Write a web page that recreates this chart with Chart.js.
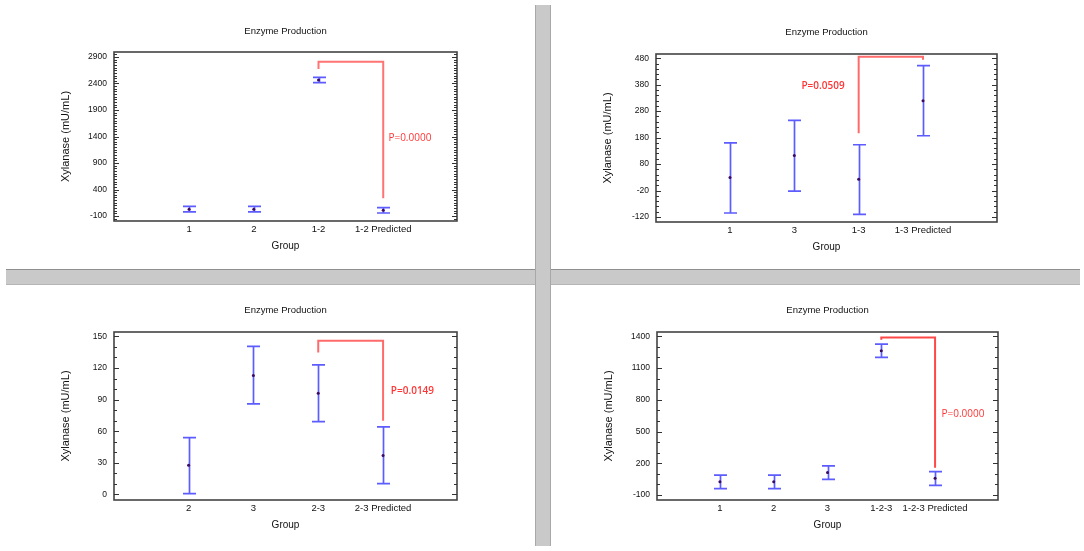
<!DOCTYPE html>
<html>
<head>
<meta charset="utf-8">
<script src="https://cdn.jsdelivr.net/npm/chart.js@4.4.0/dist/chart.umd.min.js"></script>
<style>
  body { margin: 0; width: 1084px; height: 551px; background: #fff; position: relative; overflow: hidden; }
  .hbar { position: absolute; left: 6px; top: 269px; width: 1074px; height: 14px; background: #c9c9c9;
          border-top: 1px solid #8f8f8f; border-bottom: 1px solid #b5b5b5; }
  .vbar { position: absolute; left: 535px; top: 5px; width: 14px; height: 541px; background: #c9c9c9;
          border-left: 1px solid #a8a8a8; border-right: 1px solid #a8a8a8; }
  canvas { position: absolute; }
</style>
</head>
<body>
<div class="hbar"></div>
<div class="vbar"></div>
<canvas id="c0" width="535" height="269" style="left:0;top:0"></canvas>
<canvas id="c1" width="533" height="269" style="left:551px;top:0"></canvas>
<canvas id="c2" width="535" height="266" style="left:0;top:285px"></canvas>
<canvas id="c3" width="533" height="266" style="left:551px;top:285px"></canvas>
<script>
// top-left: 1 + 2
const groupsA = ['1', '2', '1-2', '1-2 Predicted'];
const meanA = [30, 30, 2466, 7];
const lowA = [-20, -20, 2418, -43];
const highA = [80, 80, 2514, 57];
const ticksA = [-100, 400, 900, 1400, 1900, 2400, 2900];
const bracketA = [2674, 2812, 234];   // left foot, top, right foot

// top-right: 1 + 3
const groupsB = ['1', '3', '1-3', '1-3 Predicted'];
const meanB = [29, 112, 23, 319];
const lowB = [-105, -22, -110, 187];
const highB = [160, 245, 153, 452];
const ticksB = [-120, -20, 80, 180, 280, 380, 480];
const bracketB = [196, 486, 474];

// bottom-left: 2 + 3
const groupsC = ['2', '3', '2-3', '2-3 Predicted'];
const meanC = [27.6, 112.9, 96.1, 36.8];
const lowC = [0.6, 85.9, 69.1, 10.1];
const highC = [53.9, 140.5, 123, 64];
const ticksC = [0, 30, 60, 90, 120, 150];
const bracketC = [134.8, 145.9, 70];

// bottom-right: 1 + 2 + 3
const groupsD = ['1', '2', '3', '1-2-3', '1-2-3 Predicted'];
const meanD = [26, 26, 112, 1264, 58];
const lowD = [-40, -40, 48, 1201, -8];
const highD = [89, 89, 175, 1327, 121];
const ticksD = [-100, 200, 500, 800, 1100, 1400];
const bracketD = [1368, 1390, 159];

const pValues = ['P=0.0000', 'P=0.0509', 'P=0.0149', 'P=0.0000'];

Chart.defaults.font.family = "'Liberation Sans', Arial, sans-serif";
Chart.defaults.color = '#111';

// area = chart area inside the canvas [left, top, right, bottom]
const panels = [
  { el: 'c0', w: 535, h: 269, area: [114, 52, 457, 221], titleY: 31, xr: [-0.16, 5.14], yr: [-194, 2994], minor: 10,
    cats: groupsA, mean: meanA, low: lowA, high: highA, ticks: ticksA, br: bracketA, p: pValues[0], pAt: [4.08, 1371], pw: 400, red: '#ff7373' },
  { el: 'c1', w: 533, h: 269, area: [105, 54, 446, 222], titleY: 32, xr: [-0.15, 5.15], yr: [-139, 496], minor: 5,
    cats: groupsB, mean: meanB, low: lowB, high: highB, ticks: ticksB, br: bracketB, p: pValues[1], pAt: [2.11, 376], pw: 600, red: '#ff6b6b' },
  { el: 'c2', w: 535, h: 266, area: [114, 47, 457, 215], titleY: 25, xr: [-0.15, 5.14], yr: [-5.4, 154.2], minor: 3,
    cats: groupsC, mean: meanC, low: lowC, high: highC, ticks: ticksC, br: bracketC, p: pValues[2], pAt: [4.12, 98.3], pw: 600, red: '#ff6b6b' },
  { el: 'c3', w: 533, h: 266, area: [106, 47, 447, 215], titleY: 25.7, xr: [-0.17, 6.17], yr: [-147, 1441], minor: 3,
    cats: groupsD, mean: meanD, low: lowD, high: highD, ticks: ticksD, br: bracketD, p: pValues[3], pAt: [5.12, 661], pw: 400, red: '#ff4848' }
];

const Y_W = 58, X_H = 36, TITLE_LH = 11.4;

function decor(p) {
  return {
    id: 'decor',
    beforeDatasetsDraw(chart) {
      const { ctx, scales: { x, y } } = chart;
      ctx.save();
      ctx.strokeStyle = '#5c5cff';
      ctx.lineWidth = 1.7;
      p.cats.forEach((c, i) => {
        const px = Math.round(x.getPixelForValue(i + 1)) + 0.5;
        const lo = y.getPixelForValue(p.low[i]);
        const hi = y.getPixelForValue(p.high[i]);
        ctx.beginPath();
        ctx.moveTo(px, lo); ctx.lineTo(px, hi);
        ctx.moveTo(px - 6.5, lo); ctx.lineTo(px + 6.5, lo);
        ctx.moveTo(px - 6.5, hi); ctx.lineTo(px + 6.5, hi);
        ctx.stroke();
      });
      ctx.restore();
    },
    afterDatasetsDraw(chart) {
      const { ctx, chartArea: a, scales: { x, y } } = chart;
      ctx.save();
      // frame
      ctx.strokeStyle = '#444';
      ctx.lineWidth = 1.6;
      ctx.strokeRect(a.left, a.top, a.right - a.left, a.bottom - a.top);
      // inward ticks, both sides
      ctx.lineWidth = 1;
      ctx.strokeStyle = '#333';
      const step = (p.ticks[1] - p.ticks[0]) / p.minor;
      ctx.beginPath();
      for (let k = Math.ceil((y.min - p.ticks[0]) / step); p.ticks[0] + k * step <= y.max; k++) {
        const v = p.ticks[0] + k * step;
        const py = Math.round(y.getPixelForValue(v)) + 0.5;
        const len = (k % p.minor === 0) ? 5 : 3;
        ctx.moveTo(a.left, py); ctx.lineTo(a.left + len, py);
        ctx.moveTo(a.right - len, py); ctx.lineTo(a.right, py);
      }
      ctx.stroke();
      // p-value label
      ctx.fillStyle = '#ff3535';
      ctx.font = p.pw + " 10px 'Open Sans', 'Liberation Sans', sans-serif";
      ctx.textAlign = 'left';
      ctx.textBaseline = 'middle';
      ctx.fillText(p.p, x.getPixelForValue(p.pAt[0]), y.getPixelForValue(p.pAt[1]));
      ctx.restore();
    }
  };
}

panels.forEach(p => {
  const n = p.cats.length;
  const [aL, aT, aR, aB] = p.area;
  new Chart(document.getElementById(p.el), {
    type: 'scatter',
    data: {
      datasets: [
        {
          data: p.mean.map((m, i) => ({ x: i + 1, y: m })),
          pointRadius: 1.5, pointBackgroundColor: '#3b0a5e', pointBorderWidth: 0
        },
        {
          data: [{ x: n - 1, y: p.br[0] }, { x: n - 1, y: p.br[1] }, { x: n, y: p.br[1] }, { x: n, y: p.br[2] }],
          showLine: true, borderColor: p.red, borderWidth: 2, pointRadius: 0, tension: 0
        }
      ]
    },
    options: {
      responsive: false,
      animation: false,
      events: [],
      layout: { padding: { left: aL - Y_W, right: p.w - aR, top: 0, bottom: p.h - aB - X_H } },
      plugins: {
        legend: { display: false },
        tooltip: { enabled: false },
        title: {
          display: true, text: 'Enzyme Production', fullSize: false, color: '#111',
          font: { size: 9.5, weight: 'normal', lineHeight: 1.2 },
          padding: { top: p.titleY - TITLE_LH / 2, bottom: aT - p.titleY - TITLE_LH / 2 }
        }
      },
      scales: {
        x: {
          type: 'linear', min: p.xr[0], max: p.xr[1],
          grid: { display: false, drawTicks: false }, border: { display: false },
          afterBuildTicks: s => { s.ticks = p.cats.map((c, i) => ({ value: i + 1 })); },
          afterFit: s => { s.height = X_H; },
          ticks: { autoSkip: false, maxRotation: 0, padding: 3, font: { size: 9.5 }, color: '#111',
                   callback: v => p.cats[Math.round(v) - 1] },
          title: { display: true, text: 'Group', color: '#111', font: { size: 10 }, padding: { top: 0, bottom: 4.5 } }
        },
        y: {
          type: 'linear', min: p.yr[0], max: p.yr[1],
          grid: { display: false, drawTicks: false }, border: { display: false },
          afterBuildTicks: s => { s.ticks = p.ticks.map(v => ({ value: v })); },
          afterFit: s => { s.width = Y_W; },
          ticks: { padding: 7, font: { size: 8.5 }, color: '#111', callback: v => String(v) },
          title: { display: true, text: 'Xylanase (mU/mL)', color: '#111',
                   font: { size: 11 }, padding: { top: 3.5, bottom: 0 } }
        }
      }
    },
    plugins: [decor(p)]
  });
});
</script>
</body>
</html>
